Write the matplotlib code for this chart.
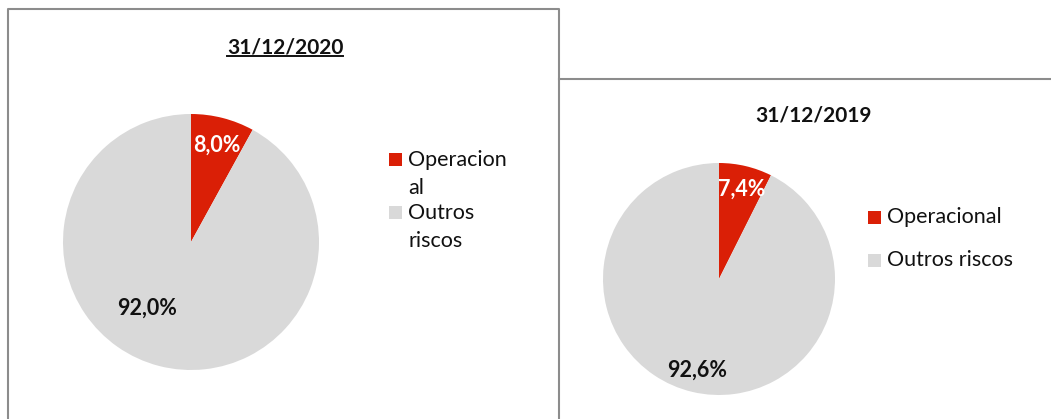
import numpy as np
import matplotlib.pyplot as plt
from matplotlib.patches import Rectangle
from matplotlib.lines import Line2D

plt.rcParams['font.family'] = ['Lato', 'DejaVu Sans']

# Data
dates = ['31/12/2020', '31/12/2019']
categories = ['Operacional', 'Outros riscos']
shares_2020 = [8.0, 92.0]
shares_2019 = [7.4, 92.6]
legend_2020 = ['Operacion\nal', 'Outros\nriscos']
legend_2019 = ['Operacional', 'Outros riscos']

colors = ['#DA1F06', '#D9D9D9']
label_colors = ['white', 'black']
border = '#8C8C8C'
ink = '#111111'

W, H = 1051, 419
fig = plt.figure(figsize=(W / 100, H / 100), dpi=100)
ax = fig.add_axes([0, 0, 1, 1])


def Y(y):
    return H - y


def fmt(v):
    return f'{v:.1f}%'.replace('.', ',')


def draw_pie(values, center, radius, label_pos):
    cx, cy = center
    ax.pie(values, colors=colors, startangle=90, counterclock=False,
           center=(cx, Y(cy)), radius=radius,
           wedgeprops=dict(linewidth=0))
    for v, col, (ang, frac) in zip(values, label_colors, label_pos):
        a = np.deg2rad(ang)
        ax.text(cx + frac * radius * np.cos(a), Y(cy) + frac * radius * np.sin(a),
                fmt(v), color=col if col == 'white' else ink, fontsize=15.5,
                fontweight='bold', ha='center', va='center')


def draw_legend(labels, x, ys_square, ys_lines):
    for col, ysq, lines, yl in zip(colors, ys_square, labels, ys_lines):
        ax.add_patch(Rectangle((x, Y(ysq) - 13), 13, 13, color=col, lw=0))
        for i, line in enumerate(lines.split('\n')):
            ax.text(x + 19, Y(yl + i * 28), line, fontsize=15.5,
                    ha='left', va='center', color=ink)


# 2020 panel
draw_pie(shares_2020, (191, 242), 128, [(75.0, 0.78), (-123.5, 0.62)])
draw_legend(legend_2020, 389, [153, 206], [160, 213])
t20 = ax.text(285, Y(47), dates[0], fontsize=15, fontweight='bold',
              ha='center', va='center', color=ink)

# 2019 panel
draw_pie(shares_2019, (719, 279), 116, [(76.0, 0.80), (-103.6, 0.81)])
draw_legend(legend_2019, 868, [211, 254], [217, 260])
ax.text(813, Y(116), dates[1], fontsize=15, fontweight='bold',
        ha='center', va='center', color=ink)

ax.set_xlim(0, W)
ax.set_ylim(0, H)
ax.set_aspect('equal')
ax.axis('off')

# Panel borders
ax.add_line(Line2D([8, 8, 559, 559], [0, Y(9), Y(9), 0], color=border, lw=1.5))
ax.add_line(Line2D([559, W], [Y(79), Y(79)], color=border, lw=1.5))

# Underline the 2020 title
fig.canvas.draw()
bb = t20.get_window_extent().transformed(ax.transData.inverted())
ax.add_line(Line2D([bb.x0, bb.x1], [bb.y0 + 1, bb.y0 + 1], color=ink, lw=1.4))

fig.savefig('out.png', dpi=100)
